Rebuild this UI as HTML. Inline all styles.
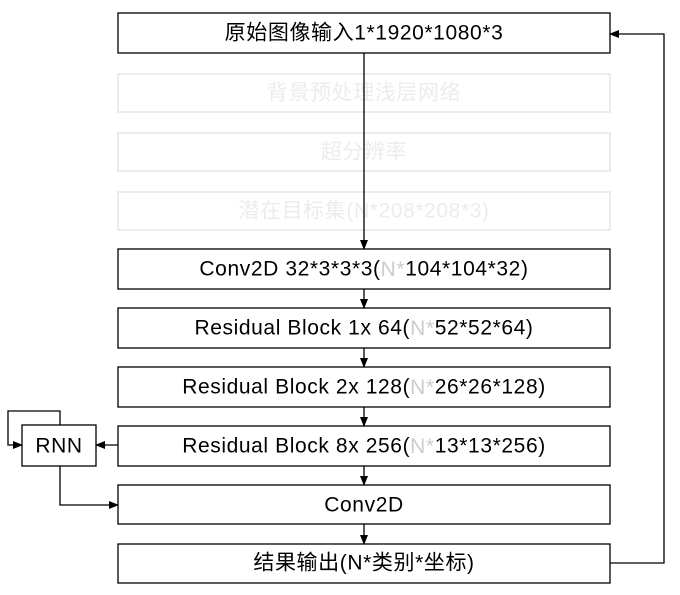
<!DOCTYPE html>
<html><head><style>body{margin:0;background:#fff}svg{display:block}text{font-family:"Liberation Sans","Noto Sans CJK SC",sans-serif;font-size:21px;letter-spacing:0.6px;text-anchor:middle;dominant-baseline:central}</style></head><body>
<svg width="680" height="595" xmlns="http://www.w3.org/2000/svg">
<defs><marker id="a" markerWidth="10" markerHeight="10" refX="9" refY="5" orient="auto" markerUnits="userSpaceOnUse"><path d="M0,1 L10,5 L0,9 Z" fill="#000"/></marker></defs>
<g fill="none" stroke="#dde0ea" stroke-width="1.2">
<rect x="118" y="74" width="492" height="38"/>
<rect x="118" y="133" width="492" height="38"/>
<rect x="118" y="192" width="492" height="38"/>
</g>
<g fill="#ececec">
<text x="364" y="93">背景预处理浅层网络</text>
<text x="364" y="152">超分辨率</text>
<text x="364" y="211">潜在目标集(N*208*208*3)</text>
</g>
<g fill="#fff" stroke="#000" stroke-width="1.3">
<rect x="118" y="13" width="492" height="40"/>
<rect x="118" y="249" width="492" height="40"/>
<rect x="118" y="308" width="492" height="40"/>
<rect x="118" y="367" width="492" height="40"/>
<rect x="118" y="426" width="492" height="40"/>
<rect x="118" y="485" width="492" height="39"/>
<rect x="118" y="544" width="492" height="39"/>
<rect x="22" y="425" width="74" height="41"/>
</g>
<g stroke="#000" stroke-width="1.3" fill="none" marker-end="url(#a)">
<line x1="364" y1="53" x2="364" y2="249"/>
<line x1="364" y1="289" x2="364" y2="308"/>
<line x1="364" y1="348" x2="364" y2="367"/>
<line x1="364" y1="407" x2="364" y2="426"/>
<line x1="364" y1="466" x2="364" y2="485"/>
<line x1="364" y1="524" x2="364" y2="544"/>
<polyline points="610,563 664,563 664,34 610,34"/>
<line x1="118" y1="445" x2="96" y2="445"/>
<polyline points="60,425 60,411 8,411 8,445 22,445"/>
<polyline points="60,466 60,505 118,505"/>
</g>
<g fill="#000">
<text x="364" y="33">原始图像输入1*1920*1080*3</text>
<text x="364" y="269">Conv2D 32*3*3*3(<tspan fill="#ccc">N*</tspan>104*104*32)</text>
<text x="364" y="328">Residual Block 1x 64(<tspan fill="#ccc">N*</tspan>52*52*64)</text>
<text x="364" y="387">Residual Block 2x 128(<tspan fill="#ccc">N*</tspan>26*26*128)</text>
<text x="364" y="446">Residual Block 8x 256(<tspan fill="#ccc">N*</tspan>13*13*256)</text>
<text x="364" y="505">Conv2D</text>
<text x="364" y="563">结果输出(N*类别*坐标)</text>
<text x="59" y="446">RNN</text>
</g>
</svg>
</body></html>
